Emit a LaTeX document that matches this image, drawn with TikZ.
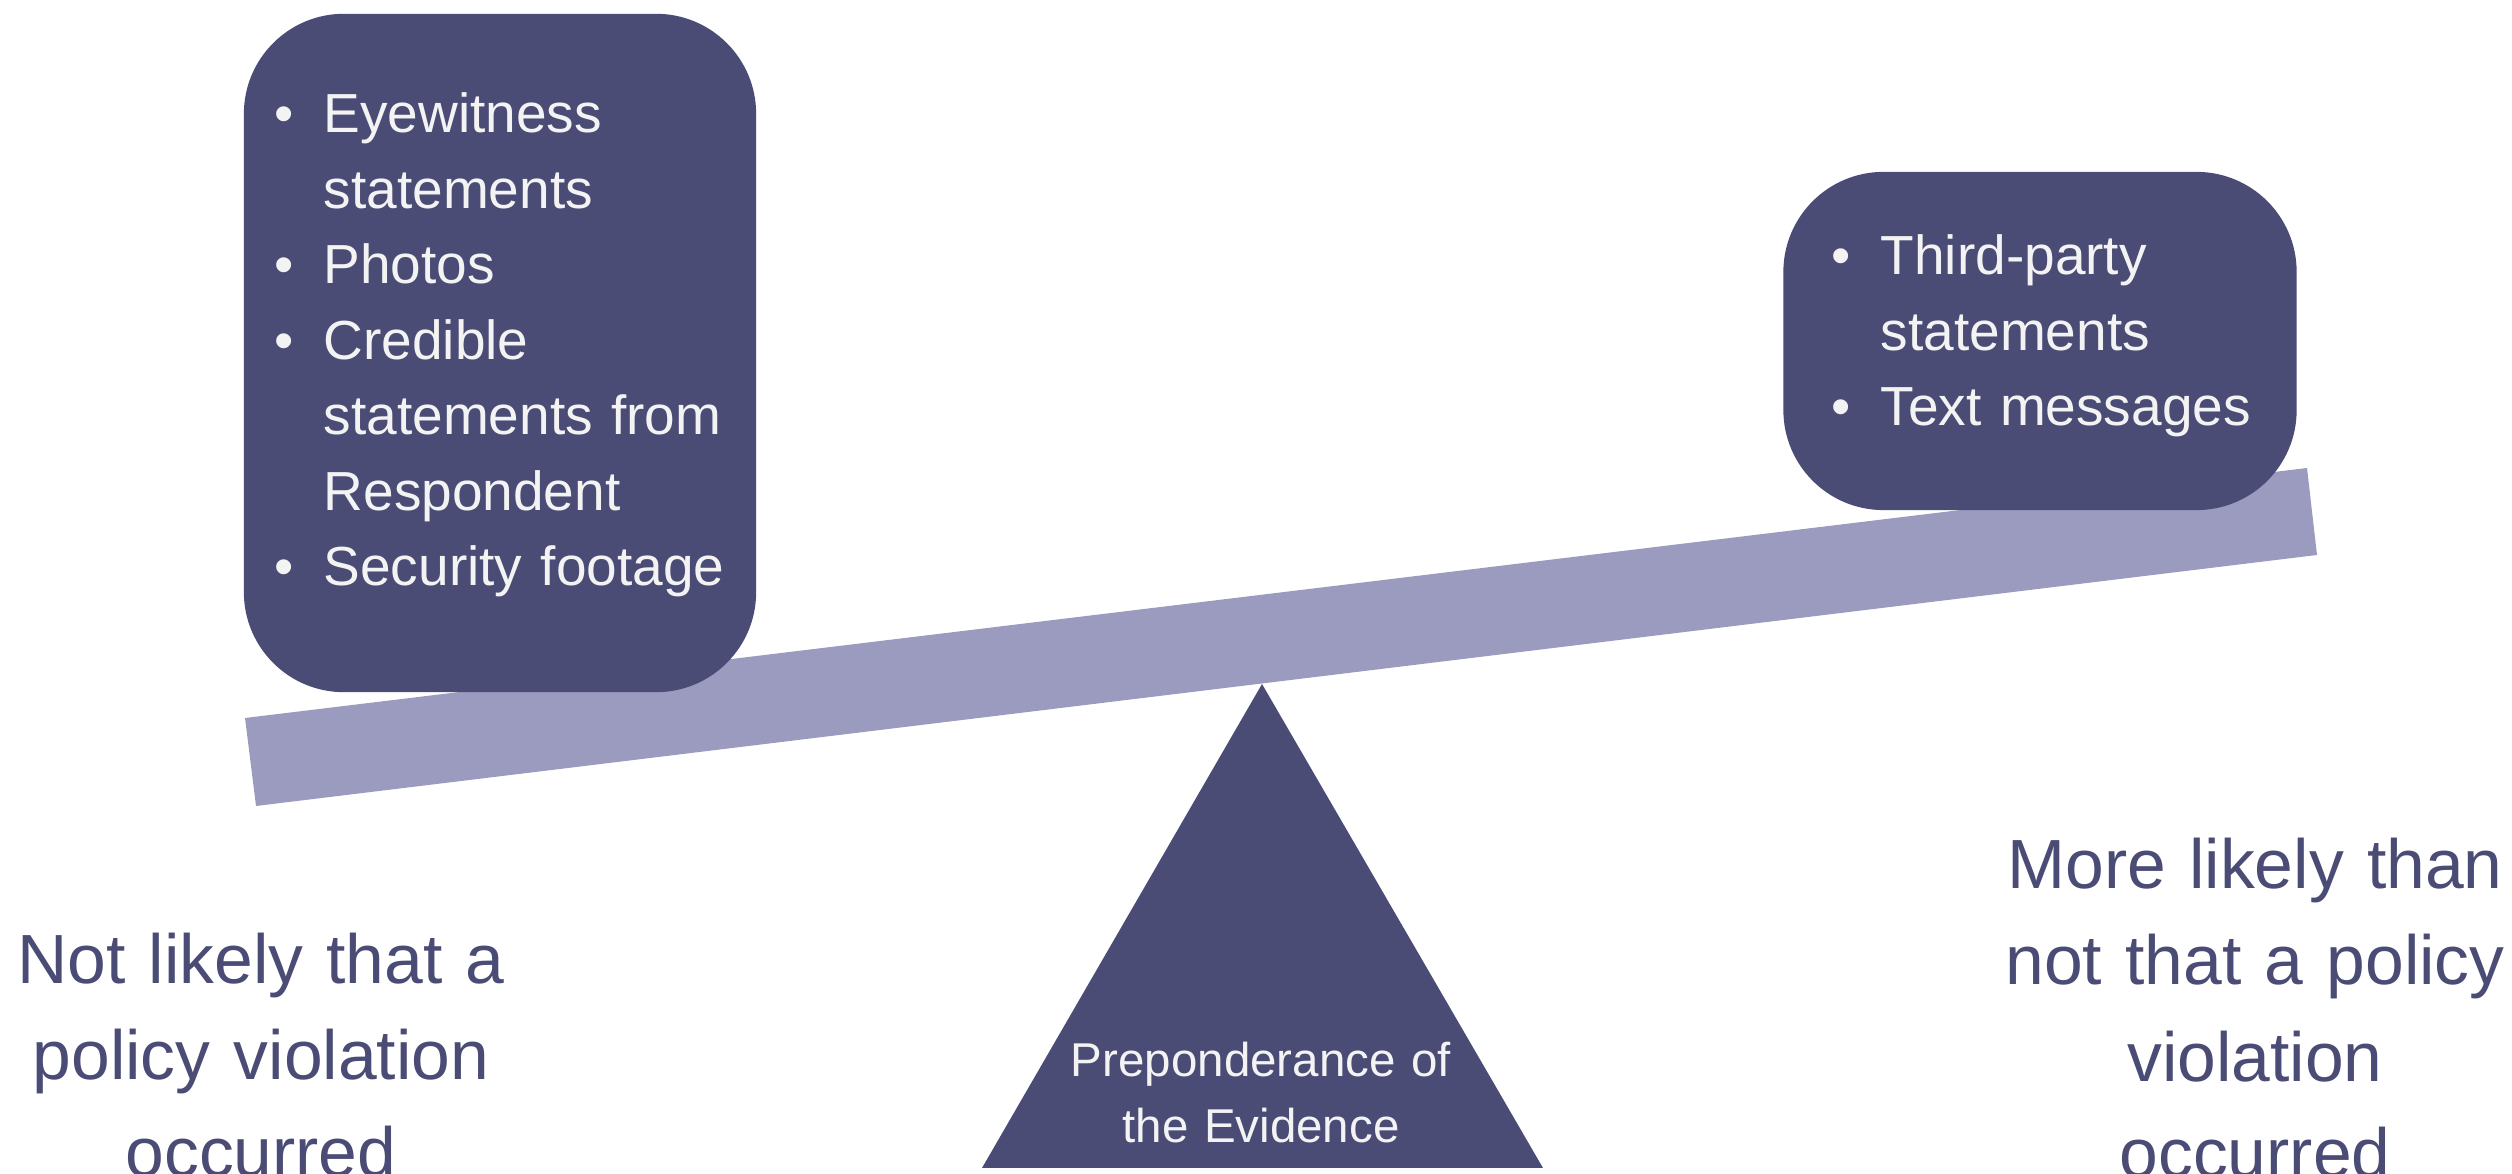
\documentclass[tikz,border=0pt]{standalone}
\usepackage{fontspec}
\setmainfont{Liberation Sans}
\usepackage{xcolor}
\usepackage{tikz}

\definecolor{slate}{HTML}{4A4C75}
\definecolor{plank}{HTML}{9B9BBF}
\definecolor{chalk}{HTML}{F3F3F3}

% one bulleted item, later lines hang under the text
\newcommand{\bitem}[1]{\hangindent=0.49cm\hangafter=1\makebox[0.49cm][l]{\textbullet}#1\par}

\begin{document}
\begin{tikzpicture}[x=0.01cm, y=-0.01cm]
    \tikzstyle{evbox} = [rectangle, fill=slate, rounded corners=1cm, inner sep=0pt]
    \tikzstyle{evlist} = [anchor=base west, inner sep=0pt, text width=5cm, text=chalk,
                          font=\fontsize{15.65}{21.45}\selectfont]
    \tikzstyle{verdict} = [anchor=base, inner sep=0pt, text width=5.6cm, align=center,
                           text=slate, font=\fontsize{19.8}{27.3}\selectfont]

    \useasboundingbox (0,0) rectangle (2512,1174);

    % Draw the plank, tilted down to the left
    \fill[plank] (245,718) -- (2307,468) -- (2317,555) -- (256,806) -- cycle;

    % Evidence boxes sitting on the plank
    \node[evbox, minimum width=5.12cm, minimum height=6.78cm] (evleft) at (500,353) {};
    \node[evbox, minimum width=5.13cm, minimum height=3.38cm] (evright) at (2040,341) {};

    \node[evlist] (listleft) at (274,133) {%
        \bitem{Eyewitness\newline statements}%
        \bitem{Photos}%
        \bitem{Credible\newline statements from\newline Respondent}%
        \bitem{Security footage}};
    \node[evlist] (listright) at (1831,275) {%
        \bitem{Third-party\newline statements}%
        \bitem{Text messages}};

    % Fulcrum
    \fill[slate] (1262,684) -- (1543,1168) -- (982,1168) -- cycle;
    \node[anchor=base, inner sep=0pt, text width=5cm, align=center, text=chalk,
          font=\fontsize{13.5}{18.5}\selectfont] (fulcrum) at (1261,1077)
          {Preponderance of\\the Evidence};

    % Outcomes on either side
    \node[verdict] (notlikely) at (261,984) {Not likely that a\\policy violation\\occurred};
    \node[verdict] (morelikely) at (2255,889) {More likely than\\not that a policy\\violation\\occurred};
\end{tikzpicture}
\end{document}
